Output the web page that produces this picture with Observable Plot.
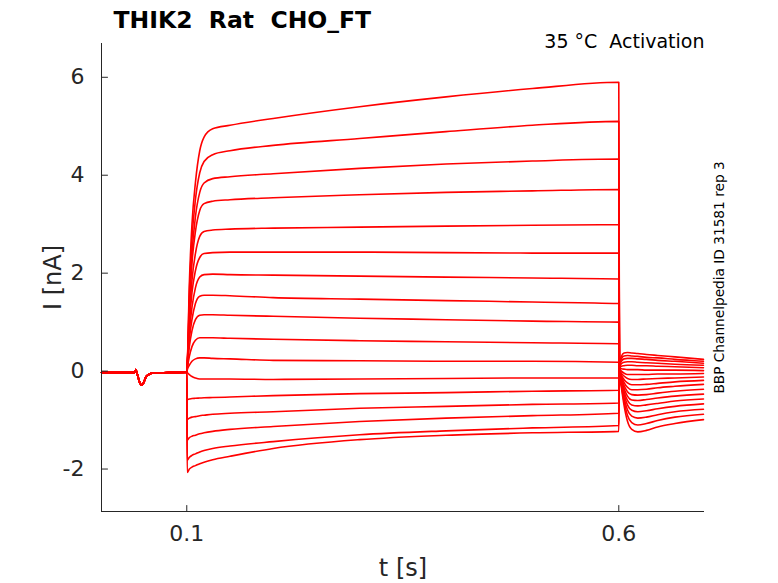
<!DOCTYPE html>
<html><head><meta charset="utf-8">
<script src="https://cdn.jsdelivr.net/npm/d3@7"></script>
<script src="https://cdn.jsdelivr.net/npm/@observablehq/plot@0.6"></script>
<style>
body{margin:0;background:#fff}
svg text{white-space:pre}
</style>
</head><body><div id="chart"></div>
<script>
// ---- data ----
const titleText = "THIK2  Rat  CHO_FT";
const conditionText = "35 °C  Activation";
const sourceText = "BBP Channelpedia ID 31581 rep 3";
const xLabel = "t [s]";
const yLabel = "I [nA]";
const xDomain = [0.0013, 0.6992];
const yDomain = [-2.867, 6.69];
const xTicks = [0.1, 0.6];
const yTicks = [-2, 0, 2, 4, 6];

// holding segment, shared by every sweep (s, nA)
const preT = [0.0013, 0.04, 0.041, 0.0425, 0.046, 0.048, 0.0505, 0.0527, 0.056, 0.0604, 0.08, 0.0995];
const preI = [-0.03, -0.03, 0.03, -0.05, -0.25, -0.29, -0.22, -0.12, -0.07, -0.04, -0.03, -0.02];

// voltage step segment
const stepT = [0.1, 0.1005, 0.103, 0.106, 0.11, 0.115, 0.12, 0.13, 0.15, 0.2, 0.3, 0.4, 0.5, 0.6];
const stepI = [
  [-0.02, 0.10, 1.80, 3.00, 3.85, 4.50, 4.78, 4.95, 5.02, 5.16, 5.40, 5.60, 5.77, 5.90],
  [-0.02, 0.10, 1.60, 2.70, 3.50, 4.05, 4.28, 4.42, 4.50, 4.61, 4.75, 4.89, 5.02, 5.10],
  [-0.02, 0.10, 1.40, 2.40, 3.15, 3.65, 3.84, 3.93, 3.97, 4.03, 4.14, 4.23, 4.29, 4.33],
  [-0.02, 0.10, 1.30, 2.20, 2.85, 3.28, 3.42, 3.47, 3.50, 3.54, 3.60, 3.65, 3.68, 3.71],
  [-0.02, 0.10, 1.10, 1.85, 2.40, 2.75, 2.85, 2.88, 2.90, 2.92, 2.94, 2.96, 2.98, 2.99],
  [-0.02, 0.10, 0.95, 1.60, 2.05, 2.32, 2.40, 2.42, 2.43, 2.43, 2.43, 2.42, 2.41, 2.41],
  [-0.02, 0.10, 0.80, 1.30, 1.70, 1.92, 1.97, 1.98, 1.97, 1.96, 1.94, 1.92, 1.90, 1.88],
  [-0.02, 0.10, 0.65, 1.05, 1.38, 1.53, 1.55, 1.55, 1.54, 1.50, 1.47, 1.44, 1.41, 1.38],
  [-0.02, 0.08, 0.50, 0.82, 1.05, 1.14, 1.15, 1.15, 1.14, 1.12, 1.08, 1.05, 1.02, 1.00],
  [-0.02, 0.05, 0.30, 0.50, 0.63, 0.68, 0.68, 0.68, 0.67, 0.65, 0.62, 0.60, 0.58, 0.56],
  [-0.02, 0.02, 0.12, 0.20, 0.25, 0.27, 0.27, 0.26, 0.25, 0.22, 0.21, 0.20, 0.20, 0.18],
  [-0.02, -0.03, -0.07, -0.11, -0.14, -0.16, -0.16, -0.16, -0.16, -0.17, -0.16, -0.15, -0.14, -0.14],
  [-0.02, -0.58, -0.57, -0.56, -0.555, -0.55, -0.545, -0.54, -0.53, -0.50, -0.46, -0.44, -0.41, -0.39],
  [-0.02, -0.99, -0.96, -0.94, -0.93, -0.91, -0.90, -0.88, -0.86, -0.83, -0.76, -0.72, -0.68, -0.65],
  [-0.02, -1.41, -1.36, -1.33, -1.31, -1.28, -1.26, -1.23, -1.19, -1.13, -1.03, -0.96, -0.91, -0.86],
  [-0.02, -1.82, -1.76, -1.72, -1.69, -1.65, -1.62, -1.58, -1.53, -1.44, -1.30, -1.22, -1.16, -1.11],
  [-0.02, -2.07, -2.00, -1.96, -1.93, -1.89, -1.86, -1.81, -1.74, -1.58, -1.40, -1.31, -1.26, -1.23]
];

// tail segment (listed from the top tail to the bottom tail)
const tailT = [0.6008, 0.603, 0.606, 0.61, 0.615, 0.622, 0.632, 0.645, 0.665, 0.698];
const tailI = [
  [0.15, 0.30, 0.37, 0.38, 0.37, 0.36, 0.34, 0.32, 0.29, 0.24],
  [0.13, 0.25, 0.31, 0.32, 0.31, 0.30, 0.28, 0.27, 0.24, 0.20],
  [0.11, 0.20, 0.25, 0.26, 0.26, 0.25, 0.24, 0.22, 0.20, 0.16],
  [0.09, 0.15, 0.18, 0.19, 0.19, 0.18, 0.17, 0.16, 0.14, 0.12],
  [0.07, 0.10, 0.11, 0.12, 0.12, 0.11, 0.11, 0.10, 0.09, 0.07],
  [0.06, 0.05, 0.04, 0.03, 0.03, 0.03, 0.02, 0.02, 0.02, 0.01],
  [0.05, 0.00, -0.04, -0.07, -0.07, -0.07, -0.07, -0.06, -0.06, -0.05],
  [0.04, -0.04, -0.10, -0.15, -0.17, -0.17, -0.16, -0.15, -0.14, -0.12],
  [0.03, -0.08, -0.17, -0.24, -0.28, -0.28, -0.27, -0.25, -0.22, -0.19],
  [0.02, -0.11, -0.23, -0.33, -0.38, -0.38, -0.37, -0.34, -0.31, -0.27],
  [0.01, -0.14, -0.29, -0.42, -0.48, -0.49, -0.48, -0.45, -0.41, -0.37],
  [0.00, -0.17, -0.35, -0.51, -0.59, -0.60, -0.58, -0.55, -0.51, -0.47],
  [0.00, -0.20, -0.41, -0.60, -0.69, -0.71, -0.69, -0.66, -0.61, -0.57],
  [-0.01, -0.23, -0.47, -0.69, -0.80, -0.83, -0.81, -0.77, -0.72, -0.67],
  [-0.01, -0.26, -0.54, -0.79, -0.92, -0.96, -0.94, -0.89, -0.83, -0.78],
  [-0.02, -0.29, -0.61, -0.90, -1.05, -1.10, -1.07, -1.01, -0.94, -0.88],
  [-0.03, -0.33, -0.69, -1.02, -1.19, -1.24, -1.21, -1.14, -1.07, -0.99]
];

// ---- build the sweep table ----
const rows = [];
stepI.forEach((step, i) => {
  preT.forEach((t, j) => rows.push({sweep: i, t, I: preI[j]}));
  stepT.forEach((t, j) => rows.push({sweep: i, t, I: step[j]}));
  const tail = tailI[tailI.length - 1 - i];
  tailT.forEach((t, j) => rows.push({sweep: i, t, I: tail[j]}));
});

// straight tick shape for Plot.vector
const tickShape = {draw(context, l) { context.moveTo(0, 0); context.lineTo(0, -l); }};

const ink = "#262626";
const chart = Plot.plot({
  width: 778,
  height: 583,
  marginLeft: 101,
  marginRight: 74,
  marginTop: 43,
  marginBottom: 72,
  style: {fontFamily: "DejaVu Sans", color: ink, background: "#fff", overflow: "visible"},
  x: {domain: xDomain},
  y: {domain: yDomain},
  marks: [
    Plot.line(rows, {x: "t", y: "I", z: "sweep", stroke: "#ff0000", strokeWidth: 1.6, curve: "monotone-x"}),
    // axis lines (box off: left and bottom only)
    Plot.ruleX([xDomain[0]], {stroke: ink, strokeWidth: 1}),
    Plot.ruleY([yDomain[0]], {stroke: ink, strokeWidth: 1}),
    // inward ticks
    Plot.vector(xTicks, {x: d => d, y: yDomain[0], length: 6, rotate: 0, anchor: "start", shape: tickShape, stroke: ink, strokeWidth: 1}),
    Plot.vector(yTicks, {x: xDomain[0], y: d => d, length: 6, rotate: 90, anchor: "start", shape: tickShape, stroke: ink, strokeWidth: 1}),
    Plot.axisX(xTicks, {tickSize: 0, tickPadding: 14, fontSize: 22, label: null, fill: ink, tickFormat: d => String(d)}),
    Plot.axisY(yTicks, {tickSize: 0, tickPadding: 17, fontSize: 22, label: null, fill: ink, tickFormat: d => String(d)}),
    Plot.text([titleText], {text: d => d, frameAnchor: "top-left", dx: 12, dy: -16, textAnchor: "start", lineAnchor: "bottom", fontSize: 23.5, fontWeight: "bold", fill: "#000"}),
    Plot.text([conditionText], {text: d => d, frameAnchor: "top-right", dx: 0, dy: 4, textAnchor: "end", lineAnchor: "bottom", fontSize: 19, fill: "#000"}),
    Plot.text([sourceText], {text: d => d, frameAnchor: "right", dx: 19, dy: 0, rotate: -90, textAnchor: "middle", lineAnchor: "bottom", fontSize: 13.7, fill: "#000"}),
    Plot.text([yLabel], {text: d => d, frameAnchor: "left", dx: -40.5, dy: 0, rotate: -90, textAnchor: "middle", lineAnchor: "bottom", fontSize: 24, fill: ink}),
    Plot.text([xLabel], {text: d => d, frameAnchor: "bottom", dx: 0, dy: 64.7, textAnchor: "middle", lineAnchor: "bottom", fontSize: 24, fill: ink})
  ]
});
document.getElementById("chart").appendChild(chart);
</script>
</body></html>
